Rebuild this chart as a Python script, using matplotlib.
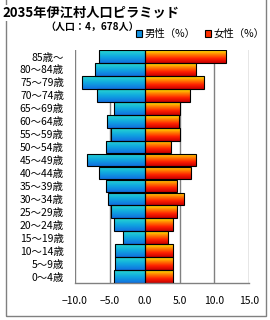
import matplotlib
matplotlib.use("Agg")
import matplotlib.pyplot as plt
import numpy as np
from matplotlib.colors import LinearSegmentedColormap
from matplotlib.patches import Patch, Rectangle

plt.rcParams["font.family"] = ["Noto Sans CJK JP", "DejaVu Sans"]

ages = ["0～4歳", "5～9歳", "10～14歳", "15～19歳", "20～24歳", "25～29歳",
        "30～34歳", "35～39歳", "40～44歳", "45～49歳", "50～54歳", "55～59歳",
        "60～64歳", "65～69歳", "70～74歳", "75～79歳", "80～84歳", "85歳～"]
male = [4.4, 4.2, 4.2, 3.1, 4.4, 4.9, 5.2, 5.6, 6.5, 8.3,
        5.6, 4.9, 5.4, 4.4, 6.9, 9.0, 7.1, 6.5]
female = [4.1, 4.0, 4.1, 3.4, 4.1, 4.7, 5.6, 4.7, 6.6, 7.3,
          3.8, 5.0, 4.9, 5.1, 6.5, 8.5, 7.3, 11.7]
xticks = [-10, -5, 0, 5, 10, 15]

male_cmap = LinearSegmentedColormap.from_list("m", ["#1070e0", "#10a8e0", "#28d8d0"])
female_cmap = LinearSegmentedColormap.from_list("f", ["#c80000", "#ff2000", "#ff8000", "#ffe800"])

fig = plt.figure(figsize=(2.7, 3.2), dpi=100)
ax = fig.add_axes([0.278, 0.1156, 0.645, 0.728])

y = np.arange(len(ages))
h = 0.98
grad = np.linspace(0, 1, 64).reshape(-1, 1)
for vals, sign, cmap in ((male, -1, male_cmap), (female, 1, female_cmap)):
    bars = ax.barh(y, [sign * v for v in vals], height=h, color="none",
                   edgecolor="black", linewidth=0.8, zorder=3)
    for bar in bars:
        x0, y0 = bar.get_x(), bar.get_y()
        x1, y1 = x0 + bar.get_width(), y0 + bar.get_height()
        im = ax.imshow(grad, cmap=cmap, aspect="auto", origin="lower",
                       extent=[min(x0, x1), max(x0, x1), y0, y1], zorder=2)
        im.set_clip_path(bar)

ax.set_xlim(-10, 15)
ax.set_ylim(-0.5, len(ages) - 0.5)
ax.set_xticks(xticks, [f"{v:.1f}".replace("-", "−") for v in xticks])
ax.set_yticks(y, ages)
ax.tick_params(length=0, labelsize=7.5, colors="black")
ax.tick_params(axis="y", pad=8)
ax.tick_params(axis="x", pad=9)
ax.grid(axis="x", color="#808080", linewidth=1.0, zorder=1)
for s in ("top", "right", "left"):
    ax.spines[s].set_visible(False)
ax.spines["bottom"].set_color("#808080")
ax.spines["bottom"].set_linewidth(1.0)

fig.patches.append(Rectangle((5.5 / 270, 4.5 / 320), 260 / 270, 1.1, transform=fig.transFigure,
                             fill=False, edgecolor="#808080", linewidth=1.0))
fig.text(2 / 270, 1 - 13 / 320, "2035年伊江村人口ピラミッド", fontsize=9.5, fontweight="bold",
         va="center", ha="left", bbox=dict(facecolor="white", edgecolor="none", pad=1))
fig.text(92 / 270, 1 - 27 / 320, "（人口：4，678人）", fontsize=7.2, fontweight="bold",
         va="center", ha="center")

handles = [Patch(facecolor="#1090e0", edgecolor="black", linewidth=0.8),
           Patch(facecolor="#ff3000", edgecolor="black", linewidth=0.8)]
fig.legend(handles, ["男性（%）", "女性（%）"], loc="center", ncol=2, frameon=False,
           bbox_to_anchor=(200 / 270, 1 - 34 / 320), fontsize=7.5, handlelength=0.6,
           handleheight=0.6, handletextpad=0.2, columnspacing=0.9, borderpad=0)

fig.savefig("out.png", dpi=100)
